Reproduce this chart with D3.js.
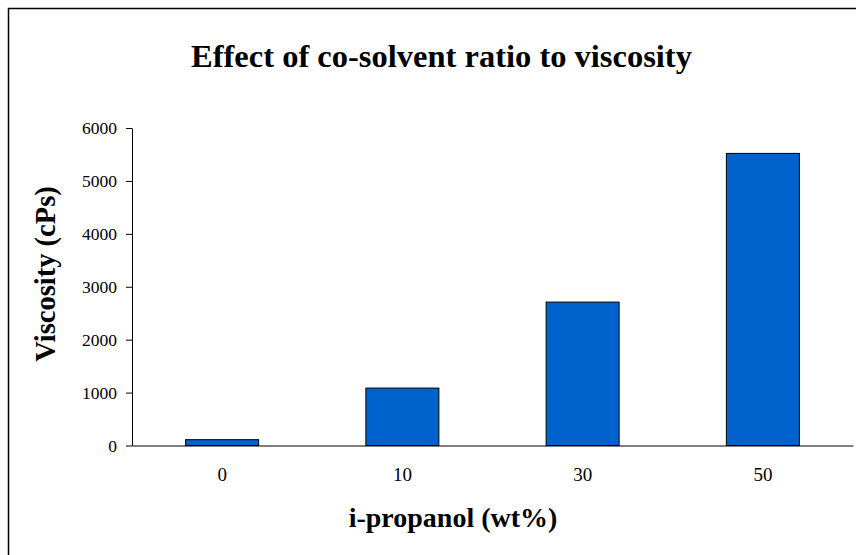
<!DOCTYPE html>
<html>
<head>
<meta charset="utf-8">
<script src="https://cdn.jsdelivr.net/npm/d3@7"></script>
<style>
  html, body { margin: 0; padding: 0; background: #ffffff; }
  svg { display: block; }
</style>
</head>
<body>
<svg id="chart" width="856" height="555"></svg>
<script>
// Data
const categories = ["0", "10", "30", "50"];
const viscosity = [110, 1085, 2710, 5520];
const yTicks = [0, 1000, 2000, 3000, 4000, 5000, 6000];
const titleText = "Effect of co-solvent ratio to viscosity";
const xTitleText = "i-propanol (wt%)";
const yTitleText = "Viscosity (cPs)";

const serif = "'Liberation Serif', 'Times New Roman', serif";
const svg = d3.select("#chart");

// Outer border (only left and top visible in the picture)
svg.append("rect")
  .attr("x", 8.5).attr("y", 8.5)
  .attr("width", 900).attr("height", 600)
  .attr("fill", "#ffffff")
  .attr("stroke", "#000").attr("stroke-width", 1.5);

const x = d3.scaleBand().domain(categories).range([132, 853]);
const y = d3.scaleLinear().domain([0, 6000]).range([445.5, 128]);

// Bars
const barW = x.bandwidth() * 0.405;
svg.append("g").selectAll("rect")
  .data(categories.map((c, i) => ({ c, v: viscosity[i] })))
  .join("rect")
  .attr("x", d => x(d.c) + (x.bandwidth() - barW) / 2)
  .attr("y", d => y(d.v))
  .attr("width", barW)
  .attr("height", d => y(0) - y(d.v))
  .attr("fill", "#0062CC")
  .attr("stroke", "#000")
  .attr("stroke-width", 1);

// Y axis
const yAxis = svg.append("g")
  .attr("transform", "translate(132,0)")
  .call(d3.axisLeft(y).tickValues(yTicks).tickSize(6).tickSizeOuter(0).tickPadding(9).tickFormat(d3.format("d")));
yAxis.selectAll("text").attr("font-family", serif).attr("font-size", 17.5).attr("fill", "#000");
yAxis.selectAll("line, path").attr("stroke", "#000");

// X axis
const xAxis = svg.append("g")
  .attr("transform", "translate(0,445.5)")
  .call(d3.axisBottom(x).tickSize(0).tickSizeOuter(0).tickPadding(22));
xAxis.selectAll("text").attr("font-family", serif).attr("font-size", 19).attr("fill", "#000");
xAxis.selectAll("path").attr("stroke", "#000");

// Titles
svg.append("text")
  .attr("x", 441.5).attr("y", 67)
  .attr("text-anchor", "middle")
  .attr("font-family", serif).attr("font-weight", "bold").attr("font-size", 32.5)
  .text(titleText);

svg.append("text")
  .attr("x", 453).attr("y", 527)
  .attr("text-anchor", "middle")
  .attr("font-family", serif).attr("font-weight", "bold").attr("font-size", 28)
  .text(xTitleText);

svg.append("text")
  .attr("transform", "translate(55,274) rotate(-90)")
  .attr("text-anchor", "middle")
  .attr("font-family", serif).attr("font-weight", "bold").attr("font-size", 28.5)
  .text(yTitleText);
</script>
</body>
</html>
